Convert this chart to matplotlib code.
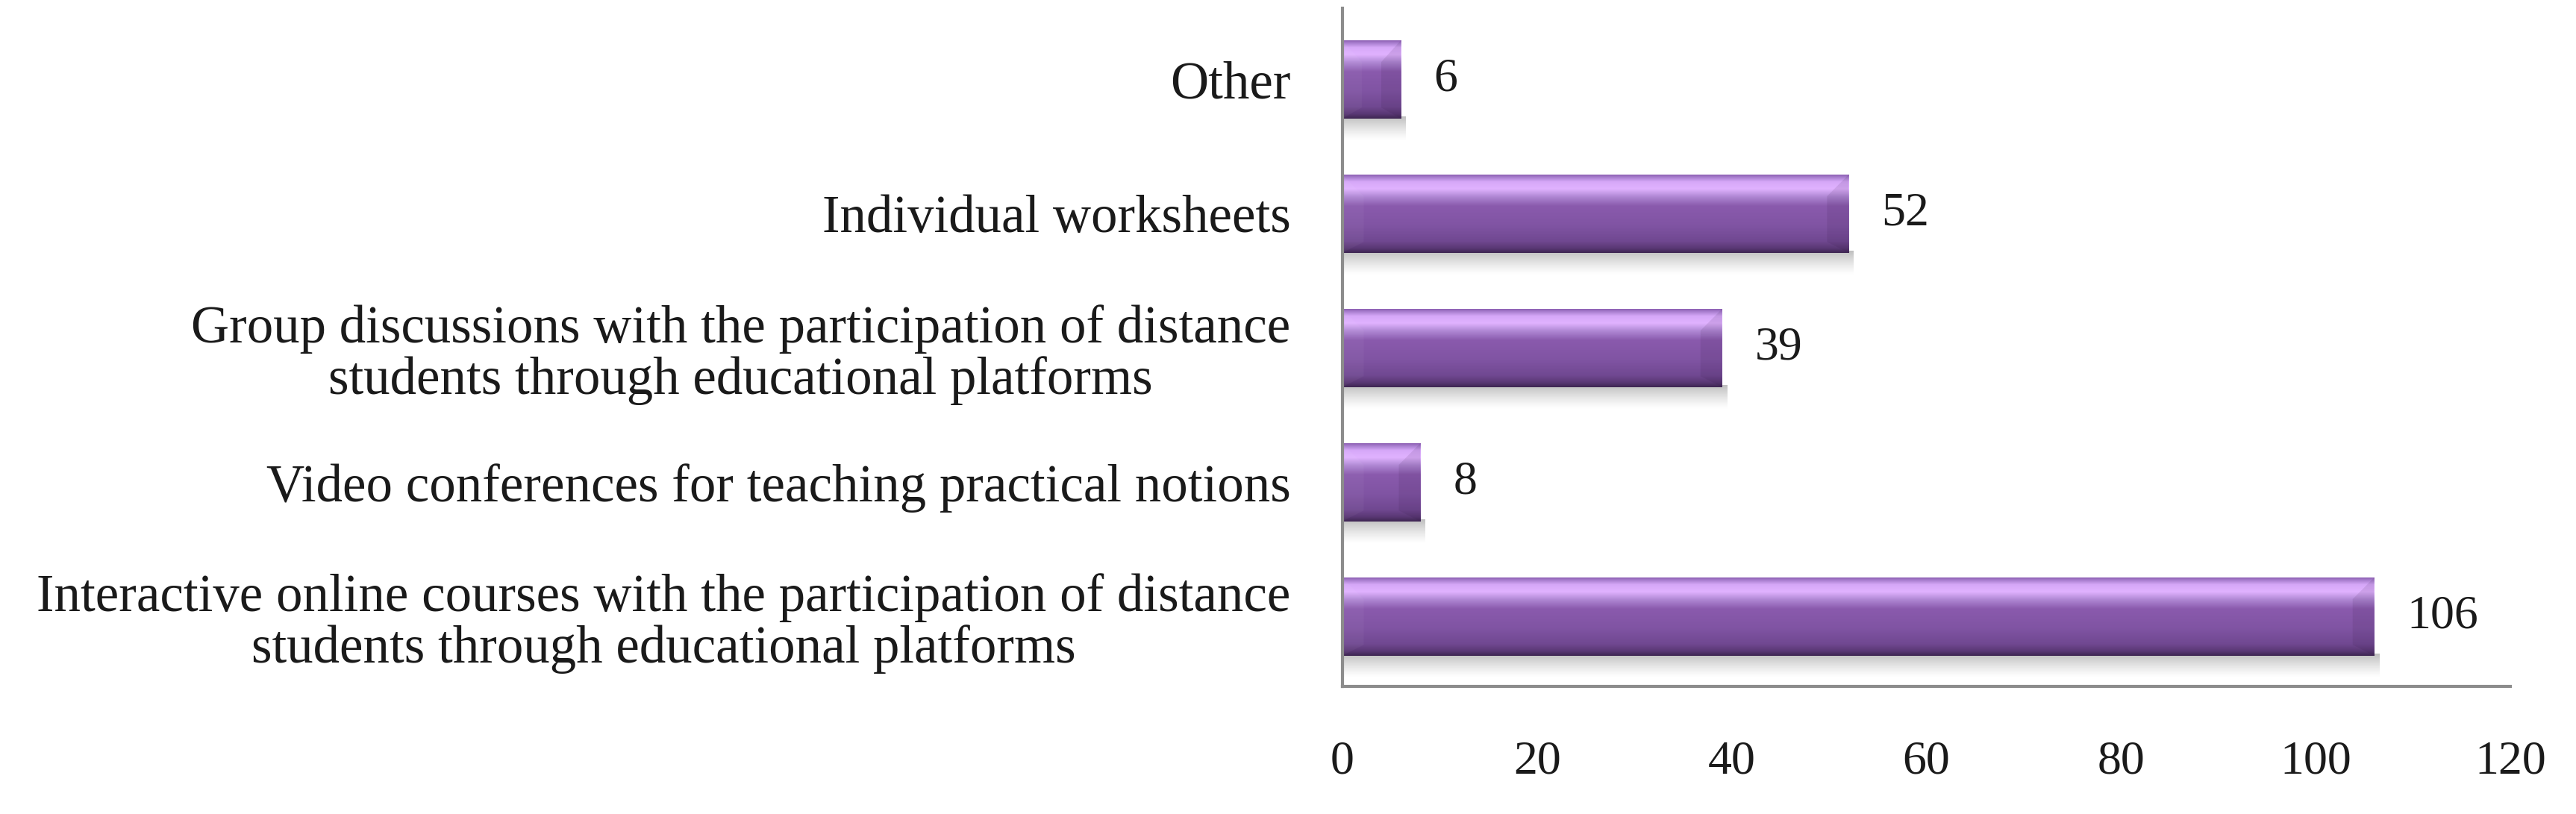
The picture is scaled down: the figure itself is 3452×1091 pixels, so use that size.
import numpy as np
import matplotlib
matplotlib.use("Agg")
import matplotlib.pyplot as plt
from matplotlib.colors import LinearSegmentedColormap, to_rgba
from matplotlib.patches import Polygon

# ---- data ----
categories = [
    "Interactive online courses with the participation of distance\nstudents through educational platforms",
    "Video conferences for teaching practical notions",
    "Group discussions with the participation of distance\nstudents through educational platforms",
    "Individual worksheets",
    "Other",
]
values = [106, 8, 39, 52, 6]
xticks = [0, 20, 40, 60, 80, 100, 120]

plt.rcParams['font.family'] = ['Liberation Serif', 'DejaVu Serif']

fig = plt.figure(figsize=(34.52, 10.91), dpi=100)
ax = fig.add_axes([0.5211, 0.1567, 0.9745 - 0.5211, 0.9899 - 0.1567])

ypos = np.arange(len(categories))
bar_h = 0.58
bars = ax.barh(ypos, values, height=bar_h, color='#8a5aac', edgecolor='none', zorder=3)

grad_cmap = LinearSegmentedColormap.from_list("bev", [
    (0.00, '#8e60b4'),
    (0.03, '#a67ccc'),
    (0.09, '#d6a8f8'),
    (0.18, '#e0b2ff'),
    (0.28, '#b088d4'),
    (0.40, '#8a5aad'),
    (0.65, '#8054a3'),
    (0.85, '#704891'),
    (0.94, '#5a3875'),
    (1.00, '#3e2652'),
])
grad = np.linspace(0, 1, 256).reshape(-1, 1)

# shadow alpha ramp
sh = np.zeros((64, 1, 4))
sh[..., :3] = 0.45
sh[:, 0, 3] = np.linspace(0.55, 0.0, 64) ** 1.3

bevel_x = 2.2   # data units (x)
bevel_y = 0.16  # data units (y)
for p in bars.patches:
    x0, y0 = p.get_x(), p.get_y()
    w, h = p.get_width(), p.get_height()
    x1, y1 = x0 + w, y0 + h
    im = ax.imshow(grad, cmap=grad_cmap, aspect='auto', origin='upper',
                   extent=(x0, x1, y0, y1), zorder=4, interpolation='bilinear')
    im.set_clip_path(p)
    ax.imshow(sh, aspect='auto', origin='upper',
              extent=(x0, x1 + 0.5, y0 - 0.17, y0 + 0.01), zorder=2,
              interpolation='bilinear')
    bx = min(bevel_x, w / 3.0)
    left = Polygon([(x0, y1), (x0 + bx, y1 - bevel_y), (x0 + bx, y0 + bevel_y * 0.5), (x0, y0)],
                   closed=True, facecolor=to_rgba('#ffffff', 0.04), edgecolor='none', zorder=5)
    right = Polygon([(x1, y1), (x1 - bx, y1 - bevel_y), (x1 - bx, y0 + bevel_y * 0.5), (x1, y0)],
                    closed=True, facecolor=to_rgba('#2a1038', 0.10), edgecolor='none', zorder=5)
    ax.add_patch(left)
    ax.add_patch(right)

ax.set_xlim(0, 120)
ax.set_ylim(-0.52, 4.53)
ax.set_xticks(xticks)
ax.set_xticklabels([str(t) for t in xticks])
ax.set_yticks(ypos)
ax.set_yticklabels(categories, ha='right', multialignment='center')

ax.tick_params(axis='x', length=0, pad=52, labelsize=46, colors='#1a1a1a')
ax.tick_params(axis='y', length=0, pad=50, labelsize=51, colors='#1a1a1a')
for lbl in ax.get_yticklabels():
    lbl.set_linespacing(1.06)

for s in ['top', 'right']:
    ax.spines[s].set_visible(False)
for s in ['left', 'bottom']:
    ax.spines[s].set_color('#8c8c8c')
    ax.spines[s].set_linewidth(3)
    ax.spines[s].set_zorder(6)

ax.bar_label(bars, labels=[str(v) for v in values], padding=32, fontsize=46, color='#1a1a1a')

fig.savefig("out.png", dpi=100, facecolor='white')
